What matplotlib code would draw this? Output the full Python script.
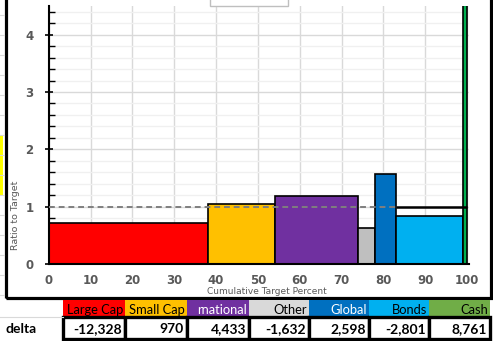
import numpy as np
import matplotlib
matplotlib.use("Agg")
import matplotlib.pyplot as plt
from matplotlib.patches import Rectangle

# ---- data ----
categories = ["Large Cap", "Small Cap", "International", "Other", "Global", "Bonds", "Cash"]
# header text as it shows in the sheet (long names get cut at the cell edge)
header_shown = ["Large Cap", "Small Cap", "rnational", "Other", "Global", "Bonds", "Cash"]
target_pct = [38, 16, 20, 4, 5, 16, 1]
ratio = [0.71, 1.05, 1.19, 0.62, 1.57, 0.84, 30.0]
delta = [-12328, 970, 4433, -1632, 2598, -2801, 8761]

bar_colors = ["#FF0000", "#FFC000", "#7030A0", "#BFBFBF", "#0070C0", "#00B0F0", "#00B050"]
head_colors = ["#FF0000", "#FFC000", "#7030A0", "#D9D9D9", "#0070C0", "#00B0F0", "#70AD47"]
head_text = ["black", "black", "white", "black", "white", "black", "black"]

W, H = 493, 341
fig = plt.figure(figsize=(W / 100, H / 100), dpi=100)
fig.patch.set_facecolor("white")


def px(x, y):
    """pixel (from top-left) -> figure fraction"""
    return x / W, 1 - y / H


# axes placed where the Excel plot area sits
ax = fig.add_axes([48.7 / W, 1 - 264 / H, 420 / W, 258 / H])
left = np.concatenate([[0], np.cumsum(target_pct)[:-1]])
ax.bar(left, ratio, width=target_pct, align="edge", color=bar_colors,
       edgecolor="black", linewidth=1.2, zorder=2)

# target line
ax.hlines(1, 0, left[-2], colors="#7F7F7F", linestyles=(0, (3, 2)), lw=1.4, zorder=3)
ax.hlines(1, left[-2], 100, colors="black", lw=1.8, zorder=3)

ax.set_xlim(0, 100.4)
ax.set_ylim(0, 4.5)
ax.set_xticks(np.arange(0, 101, 10))
ax.set_yticks(np.arange(0, 5, 1))
ax.set_yticks(np.arange(0, 4.5, 0.2), minor=True)
ax.grid(True, which="major", color="#D9D9D9", lw=1.0)
ax.grid(True, which="minor", axis="y", color="#F0F0F0", lw=1.0)
ax.set_axisbelow(True)
for s in ["top", "right"]:
    ax.spines[s].set_visible(False)
ax.spines["left"].set_linewidth(1.5)
ax.spines["bottom"].set_linewidth(1.5)
ax.tick_params(axis="x", length=0, pad=7, labelsize=8.5, labelcolor="#595959")
ax.tick_params(axis="y", which="major", direction="inout", length=6, width=1.2,
               pad=8, labelsize=8.5, labelcolor="#595959")
ax.tick_params(axis="y", which="minor", direction="in", length=4, width=1.0)
for lab in ax.get_xticklabels() + ax.get_yticklabels():
    lab.set_fontweight("bold")

fig.text(*px(15, 215), "Ratio to Target", rotation=90, ha="center", va="center",
         fontsize=6.8, color="#595959")
fig.text(*px(267, 292), "Cumulative Target Percent", ha="center", va="center",
         fontsize=6.5, color="#595959")

# ---- surroundings of the Excel chart ----
for yy in range(15, 300, 20):
    fig.add_artist(plt.Line2D([0, 4 / W], [1 - yy / H] * 2, color="#D9D9D9", lw=0.8))
x0, y0 = px(0, 195)
fig.add_artist(Rectangle((x0, y0), 3 / W, 60 / H, facecolor="#FFFF00", edgecolor="none"))

bx, by = px(6, 298)
fig.add_artist(Rectangle((bx, by), 485 / W, 320 / H, facecolor="none",
                         edgecolor="black", lw=2.3, clip_on=False))
lx, ly = px(210, 6)
fig.add_artist(Rectangle((lx, ly), 78 / W, 10 / H, facecolor="white",
                         edgecolor="#BFBFBF", lw=1.0))

# ---- table below the chart ----
edges = [63, 125, 187, 249, 309, 369, 429, 490]
head_top, head_bot, row_bot = 300, 317, 339
for i, name in enumerate(header_shown):
    xl, xr = edges[i], edges[i + 1]
    cx, cy = px(xl, head_bot)
    cell = Rectangle((cx, cy), (xr - xl) / W, (head_bot - head_top) / H,
                     facecolor=head_colors[i], edgecolor="none")
    fig.add_artist(cell)
    t = fig.text(*px(xr - 2, (head_top + head_bot) / 2 + 1), name, ha="right",
                 va="center", fontsize=9.3, family="Lato", color=head_text[i])
    t.set_clip_path(cell)
    dx, dy = px(xl, row_bot)
    fig.add_artist(Rectangle((dx, dy), (xr - xl) / W, (row_bot - head_bot) / H,
                             facecolor="white", edgecolor="black", lw=2.4))
    fig.text(*px(xr - 3, (head_bot + row_bot) / 2 + 1), f"{delta[i]:,}", ha="right",
             va="center", fontsize=10, family="Lato", fontweight="bold", color="black")

fig.add_artist(plt.Line2D([0, 63 / W], [1 - head_bot / H] * 2, color="#D9D9D9", lw=0.8))
fig.text(*px(5, (head_bot + row_bot) / 2 + 1), "delta", ha="left", va="center",
         fontsize=10, family="Lato", fontweight="bold", color="black")

fig.savefig("out.png", dpi=100, facecolor="white")
